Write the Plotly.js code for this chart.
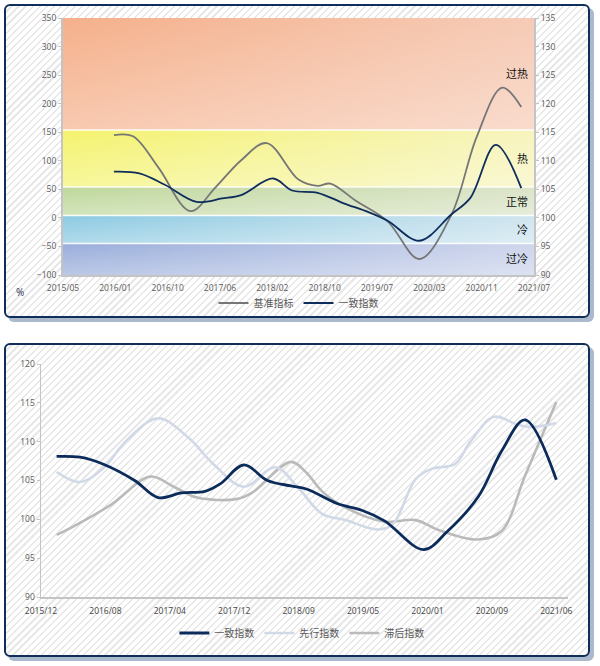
<!DOCTYPE html>
<html><head><meta charset="utf-8">
<script src="https://cdn.plot.ly/plotly-3.0.1.min.js"></script>
<style>
html,body{margin:0;padding:0;background:#fff;width:600px;height:666px;overflow:hidden;}
.panel{position:absolute;left:4px;width:586px;height:314px;box-sizing:border-box;border:2px solid #0f2e5a;border-radius:6px;box-shadow:4px 4px 0 #aab9cb;background:repeating-linear-gradient(135deg,#ffffff 0px,#ffffff 3.4px,#e8e8e8 3.4px,#e8e8e8 5px);}
.plot{position:absolute;left:0;top:0;width:582px;height:310px;}
</style></head><body>
<div class="panel" style="top:4px"><div id="c1" class="plot"></div></div>
<div class="panel" style="top:343px"><div id="c2" class="plot"></div></div>
<script>
// ---------- top chart data ----------
const topTickLabels = ['2015/05','2016/01','2016/10','2017/06','2018/02','2018/10','2019/07','2020/03','2020/11','2021/07'];
const benchName = '基准指标';
const benchDates = ['2016/01','2016/04','2016/08','2017/01','2017/05','2017/09','2018/01','2018/06','2018/09','2018/11','2019/03','2019/08','2020/01','2020/06','2020/10','2021/02','2021/05'];
const benchValues = [145,143,88,12,54,101,131,67,56,60,30,-6,-72,5,142,228,194];
const coinName = '一致指数';
const coinTopDates = ['2016/01','2016/05','2016/09','2017/02','2017/06','2017/09','2018/02','2018/05','2018/09','2019/01','2019/05','2019/08','2020/01','2020/06','2020/09','2021/01','2021/05'];
const coinTopValues = [108.1,107.8,105.8,102.8,103.4,104.0,106.9,104.8,104.4,102.6,101.0,99.5,96.0,100.6,103.5,112.8,105.2];
const bandNames = ['过热','热','正常','冷','过冷'];
const bandTops = [350,154,54,4,-45];
const bandBottoms = [154,54,4,-45,-100];
const bandLabelLevels = [125.4,110.5,103,98.1,93];
const bandColorsLeft = ['#f5b08b','#f4f36e','#bfd89c','#8ccae2','#9aaedb'];
const bandColorsRight = ['#f6cbb6','#f7f4bf','#dbe4c8','#cfe5ef','#cdd5ec'];

// ---------- bottom chart data ----------
const botTickLabels = ['2015/12','2016/08','2017/04','2017/12','2018/09','2019/05','2020/01','2020/09','2021/06'];
const coinDates = ['2016/02','2016/05','2016/08','2016/12','2017/03','2017/06','2017/09','2017/11','2018/02','2018/05','2018/08','2018/10','2019/02','2019/05','2019/08','2020/01','2020/04','2020/08','2020/11','2021/02','2021/06'];
const coinValues = [108.1,108.0,107.1,105.0,102.8,103.4,103.6,104.6,107.0,105.0,104.3,103.9,102.0,101.2,99.8,96.1,98.4,102.9,108.8,112.8,105.1];
const leadName = '先行指数';
const leadDates = ['2016/02','2016/05','2016/08','2016/11','2017/03','2017/07','2017/10','2018/02','2018/06','2018/09','2018/12','2019/03','2019/07','2019/09','2019/12','2020/02','2020/05','2020/07','2020/10','2021/01','2021/03','2021/06'];
const leadValues = [106.1,104.8,106.6,110.2,113.0,110.4,107.2,104.2,106.7,104.0,100.7,99.9,98.7,99.3,105.2,106.5,107.1,110.0,113.2,112.2,111.9,112.4];
const lagName = '滞后指数';
const lagDates = ['2016/02','2016/04','2016/09','2017/02','2017/05','2017/08','2018/01','2018/03','2018/08','2018/10','2018/12','2019/03','2019/08','2019/12','2020/03','2020/08','2020/11','2021/02','2021/06'];
const lagValues = [98.0,99.0,101.9,105.5,104.2,102.8,102.6,103.4,107.4,106.0,103.6,101.5,99.7,99.9,98.6,97.4,98.5,105.6,115.1];

// ---------- helpers ----------
function monthIndex(s, base){
  const a = s.split('/').map(Number), b = base.split('/').map(Number);
  return (a[0]-b[0])*12 + (a[1]-b[1]);
}
const topBase = topTickLabels[0];
const topSpan = monthIndex(topTickLabels[topTickLabels.length-1], topBase);
const topTickVals = topTickLabels.map((_,i)=> i*topSpan/(topTickLabels.length-1));

const axisGray = '#c4c4c4';
const tickFont = {family:'Open Sans, sans-serif', size:8.5, color:'#595959'};
const cjk = 'Noto Sans CJK SC, sans-serif';

// ---------- top chart ----------
const topTraces = [];
bandNames.forEach((n,i)=>{
  const xs=[0,topSpan,topSpan,0,0], ys=[bandBottoms[i],bandBottoms[i],bandTops[i],bandTops[i],bandBottoms[i]];
  topTraces.push({x:xs,y:ys,mode:'none',fill:'toself',showlegend:false,hoverinfo:'skip',
    fillgradient:{type:'horizontal',colorscale:[[0,bandColorsLeft[i]],[1,bandColorsRight[i]]]}});
  topTraces.push({x:xs,y:ys,mode:'none',fill:'toself',showlegend:false,hoverinfo:'skip',
    fillgradient:{type:'vertical',colorscale:[[0,'rgba(255,255,255,0.32)'],[1,'rgba(255,255,255,0)']]}});
});
bandTops.slice(1).forEach(b=>{
  topTraces.push({x:[0,topSpan],y:[b,b],mode:'lines',line:{color:'rgba(255,255,255,0.9)',width:1.5},showlegend:false,hoverinfo:'skip'});
});
topTraces.push({name:benchName,x:benchDates.map(d=>monthIndex(d,topBase)),y:benchValues,mode:'lines',
  line:{color:'#767676',width:1.8,shape:'spline',smoothing:1},yaxis:'y'});
topTraces.push({name:coinName,x:coinTopDates.map(d=>monthIndex(d,topBase)),y:coinTopValues,mode:'lines',
  line:{color:'#0e2c5c',width:1.8,shape:'spline',smoothing:1},yaxis:'y2'});

const topAnn = bandNames.map((n,i)=>({text:n,xref:'paper',x:0.992,xanchor:'right',yref:'y2',y:bandLabelLevels[i],
  yanchor:'middle',showarrow:false,font:{family:cjk,size:11,color:'#111'}}));
topAnn.push({text:'%',xref:'paper',x:-0.091,xanchor:'center',yref:'paper',y:-0.066,yanchor:'middle',showarrow:false,
  font:{family:'Open Sans, sans-serif',size:10,color:'#1f2f4f'}});

const topLayout = {
  width:582,height:310,margin:{l:57,r:54,t:12,b:41,autoexpand:false},
  paper_bgcolor:'rgba(0,0,0,0)',plot_bgcolor:'#ffffff',
  font:tickFont,
  xaxis:{range:[0,topSpan],tickmode:'array',tickvals:topTickVals,ticktext:topTickLabels,showgrid:false,zeroline:false,
    showline:true,linecolor:axisGray,linewidth:2,ticks:'outside',ticklen:4,tickcolor:'rgba(0,0,0,0)',tickfont:tickFont,automargin:false},
  yaxis:{range:[-100,350],tickmode:'linear',tick0:0,dtick:50,showgrid:false,zeroline:false,showline:true,linecolor:axisGray,
    linewidth:2,ticks:'outside',ticklen:3,tickcolor:axisGray,tickfont:tickFont,automargin:false},
  yaxis2:{overlaying:'y',side:'right',range:[90,135],tickmode:'linear',tick0:90,dtick:5,showgrid:false,zeroline:false,
    showline:true,linecolor:axisGray,linewidth:2,ticks:'outside',ticklen:3,tickcolor:axisGray,tickfont:tickFont,automargin:false},
  showlegend:true,
  legend:{orientation:'h',x:0.5,xanchor:'center',yref:'container',y:0.042,yanchor:'middle',bgcolor:'rgba(0,0,0,0)',
    font:{family:cjk,size:10,color:'#595959'}},
  annotations:topAnn
};
Plotly.newPlot('c1',topTraces,topLayout,{displayModeBar:false,staticPlot:true});

// ---------- bottom chart ----------
const botBase = botTickLabels[0];
const botSpan = monthIndex(botTickLabels[botTickLabels.length-1], botBase);
const botTickVals = botTickLabels.map((_,i)=> i*botSpan/(botTickLabels.length-1));
const botTraces = [
  {name:lagName,x:lagDates.map(d=>monthIndex(d,botBase)),y:lagValues,mode:'lines',legendrank:3,
    line:{color:'#bababa',width:2.6,shape:'spline',smoothing:1}},
  {name:leadName,x:leadDates.map(d=>monthIndex(d,botBase)),y:leadValues,mode:'lines',legendrank:2,
    line:{color:'#d2d9e6',width:2.6,shape:'spline',smoothing:1}},
  {name:coinName,x:coinDates.map(d=>monthIndex(d,botBase)),y:coinValues,mode:'lines',legendrank:1,
    line:{color:'#0b2b5a',width:2.8,shape:'spline',smoothing:1}}
];
const botLayout = {
  width:582,height:310,margin:{l:35,r:20,t:19,b:58,autoexpand:false},
  paper_bgcolor:'rgba(0,0,0,0)',plot_bgcolor:'rgba(0,0,0,0)',
  font:tickFont,
  xaxis:{range:[0,botSpan+1.5],tickmode:'array',tickvals:botTickVals,ticktext:botTickLabels,showgrid:false,zeroline:false,
    showline:true,linecolor:axisGray,linewidth:1.5,ticks:'outside',ticklen:5,tickcolor:'rgba(0,0,0,0)',
    tickfont:{family:'Open Sans, sans-serif',size:8.5,color:'#444'},automargin:false},
  yaxis:{range:[90,120],tickmode:'linear',tick0:90,dtick:5,showgrid:false,zeroline:false,showline:true,linecolor:axisGray,
    linewidth:1.5,ticks:'outside',ticklen:3,tickcolor:axisGray,tickfont:tickFont,automargin:false},
  showlegend:true,
  legend:{orientation:'h',x:0.495,xanchor:'center',yref:'container',y:0.071,yanchor:'middle',bgcolor:'rgba(0,0,0,0)',
    traceorder:'normal',font:{family:cjk,size:10,color:'#595959'}}
};
Plotly.newPlot('c2',botTraces,botLayout,{displayModeBar:false,staticPlot:true});
</script>
</body></html>
